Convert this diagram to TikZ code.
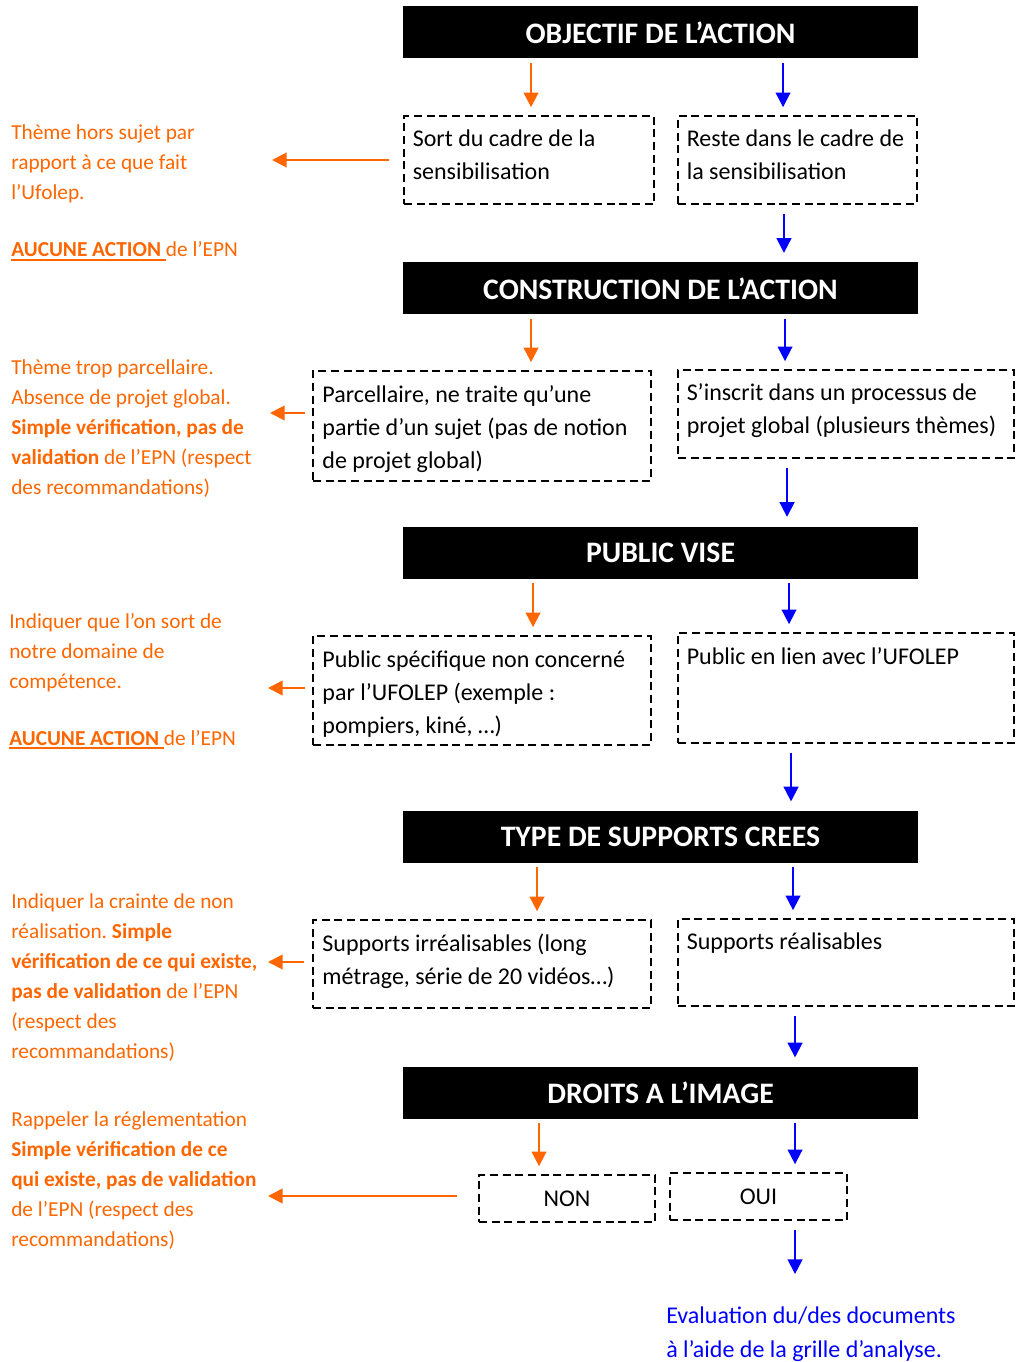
\documentclass[tikz,border=0pt]{standalone}
\usepackage{fontspec}
\setmainfont{Carlito}
\usetikzlibrary{arrows.meta}
\definecolor{ufoorange}{HTML}{FF6600}
\definecolor{ufoblue}{HTML}{0000FF}
\newcommand\ulined[1]{\setbox0\hbox{#1}\rlap{\rule[-2.8pt]{\wd0}{1.1pt}}\box0}
\frenchspacing

\begin{document}
\begin{tikzpicture}[x=0.75pt,y=-0.75pt,
    header/.style={fill=black,text=white,inner sep=0pt,minimum width=386.25pt,minimum height=39pt,font=\fontsize{22.3}{26}\selectfont\bfseries},
    choice/.style={draw,line width=1.2pt,dash pattern=on 6pt off 3.5pt,inner sep=0pt},
    boxtext/.style={anchor=base west,inner sep=0pt,align=left,font=\fontsize{18}{24.75}\selectfont},
    note/.style={anchor=base west,inner sep=0pt,align=left,text=ufoorange,font=\fontsize{16}{22.5}\selectfont},
    orarrow/.style={ufoorange,line width=1.5pt,-{Triangle[length=11pt,width=11pt]}},
    blarrow/.style={ufoblue,line width=1.5pt,-{Triangle[length=11pt,width=11pt]}},
    godown/.style={shorten <=3pt,shorten >=6pt},
    goon/.style={shorten <=7pt,shorten >=7pt}]
    \useasboundingbox (0,0) rectangle (1015,1362);

    \node[header] (obj) at (660.5,32.5) {OBJECTIF DE L’ACTION};
    \node[header] (constr) at (660.5,288.5) {CONSTRUCTION DE L’ACTION};
    \node[header] (public) at (660.5,552.5) {PUBLIC VISE};
    \node[header] (type) at (660.5,837) {TYPE DE SUPPORTS CREES};
    \node[header] (droits) at (660.5,1093) {DROITS A L’IMAGE};

    \node[choice,minimum width=187.5pt,minimum height=66pt] (sort) at (529,160) {};
    \node[choice,minimum width=179.25pt,minimum height=66pt] (reste) at (797.5,160) {};
    \node[choice,minimum width=253.5pt,minimum height=82.5pt] (parc) at (482,426) {};
    \node[choice,minimum width=252pt,minimum height=66pt] (inscrit) at (846,414) {};
    \node[choice,minimum width=253.5pt,minimum height=81.75pt] (pspec) at (482,690.5) {};
    \node[choice,minimum width=252pt,minimum height=82.5pt] (plien) at (846,688) {};
    \node[choice,minimum width=253.5pt,minimum height=66pt] (sirr) at (482,964) {};
    \node[choice,minimum width=252pt,minimum height=65.25pt] (sreal) at (846,962.5) {};
    \node[choice,minimum width=132pt,minimum height=35.25pt,font=\fontsize{18}{22}\selectfont] (non) at (567,1198.5) {NON};
    \node[choice,minimum width=132.75pt,minimum height=35.25pt,font=\fontsize{18}{22}\selectfont] (oui) at (758.5,1196.5) {OUI};

    \node[boxtext] (sorttxt) at ([xshift=7pt,yshift=-48pt]sort.north west) {Sort du cadre de la\\sensibilisation};
    \node[boxtext] (restetxt) at ([xshift=7pt,yshift=-48pt]reste.north west) {Reste dans le cadre de\\la sensibilisation};
    \node[boxtext] (parctxt) at ([xshift=7.5pt,yshift=-73.5pt]parc.north west) {Parcellaire, ne traite qu’une\\partie d’un sujet (pas de notion\\de projet global)};
    \node[boxtext] (inscrittxt) at ([xshift=7pt,yshift=-48pt]inscrit.north west) {S’inscrit dans un processus de\\projet global (plusieurs thèmes)};
    \node[boxtext] (pspectxt) at ([xshift=7.5pt,yshift=-73.5pt]pspec.north west) {Public spécifique non concerné\\par l’UFOLEP (exemple :\\pompiers, kiné, …)};
    \node[boxtext] (plientxt) at ([xshift=7pt,yshift=-24pt]plien.north west) {Public en lien avec l’UFOLEP};
    \node[boxtext] (sirrtxt) at ([xshift=7.5pt,yshift=-48.75pt]sirr.north west) {Supports irréalisables (long\\métrage, série de 20 vidéos…)};
    \node[boxtext] (srealtxt) at ([xshift=7pt,yshift=-23.25pt]sreal.north west) {Supports réalisables};

    \node[note] (note1) at (11,257) {Thème hors sujet par\\rapport à ce que fait\\l’Ufolep.\\[20.25pt]\ulined{\bfseries AUCUNE ACTION }de l’EPN};
    \node[note] (note2) at (11,494) {Thème trop parcellaire.\\Absence de projet global.\\\textbf{Simple vérification, pas de}\\\textbf{validation} de l’EPN (respect\\des recommandations)};
    \node[note] (note3) at (9,745) {Indiquer que l’on sort de\\notre domaine de\\compétence.\\[20.25pt]\ulined{\bfseries AUCUNE ACTION }de l’EPN};
    \node[note] (note4) at (11,1058) {Indiquer la crainte de non\\réalisation. \textbf{Simple}\\\textbf{vérification de ce qui existe,}\\\textbf{pas de validation} de l’EPN\\(respect des\\recommandations)};
    \node[note] (note5) at (11,1246) {Rappeler la réglementation\\\textbf{Simple vérification de ce}\\\textbf{qui existe, pas de validation}\\de l’EPN (respect des\\recommandations)};
    \node[boxtext,text=ufoblue,font=\fontsize{18}{25.5}\selectfont] (eval) at (666,1357) {Evaluation du/des documents\\à l’aide de la grille d’analyse.};

    \draw[orarrow,godown] ([xshift=-97.1pt]obj.south) -- ([xshift=-97.1pt]obj.south |- sort.north);
    \draw[blarrow,godown] ([xshift=91.9pt]obj.south) -- ([xshift=91.9pt]obj.south |- reste.north);
    \draw[blarrow,goon] ([xshift=92.6pt]constr.north |- reste.south) -- ([xshift=92.6pt]constr.north);
    \draw[orarrow,godown] ([xshift=-97.1pt]constr.south) -- ([xshift=-97.1pt]constr.south |- parc.north);
    \draw[blarrow,godown] ([xshift=93.4pt]constr.south) -- ([xshift=93.4pt]constr.south |- inscrit.north);
    \draw[blarrow,goon] ([xshift=94.9pt]public.north |- inscrit.south) -- ([xshift=94.9pt]public.north);
    \draw[orarrow,godown] ([xshift=-95.6pt]public.south) -- ([xshift=-95.6pt]public.south |- pspec.north);
    \draw[blarrow,godown] ([xshift=96.4pt]public.south) -- ([xshift=96.4pt]public.south |- plien.north);
    \draw[blarrow,goon] ([xshift=97.9pt]type.north |- plien.south) -- ([xshift=97.9pt]type.north);
    \draw[orarrow,godown] ([xshift=-92.6pt]type.south) -- ([xshift=-92.6pt]type.south |- sirr.north);
    \draw[blarrow,godown] ([xshift=99.4pt]type.south) -- ([xshift=99.4pt]type.south |- sreal.north);
    \draw[blarrow,goon] ([xshift=100.9pt]droits.north |- sreal.south) -- ([xshift=100.9pt]droits.north);
    \draw[orarrow,godown] ([xshift=-91.1pt]droits.south) -- ([xshift=-91.1pt]droits.south |- non.north);
    \draw[blarrow,godown] ([xshift=100.9pt]droits.south) -- ([xshift=100.9pt]droits.south |- oui.north);
    \draw[blarrow,shorten <=6.75pt,shorten >=24pt] ([xshift=27.4pt]oui.south) -- ([xshift=27.4pt]oui.south |- eval.north);

    \coordinate (tip1) at (272,160);
    \coordinate (tip2) at (270,413);
    \coordinate (tip3) at (268,688);
    \coordinate (tip4) at (268,962);
    \coordinate (tip5) at (268,1196);
    \draw[orarrow,shorten <=10.5pt] (sort.west) -- (tip1);
    \draw[orarrow,shorten <=5.25pt] (parc.west |- tip2) -- (tip2);
    \draw[orarrow,shorten <=5.25pt] (pspec.west |- tip3) -- (tip3);
    \draw[orarrow,shorten <=6pt] (sirr.west |- tip4) -- (tip4);
    \draw[orarrow,shorten <=15.75pt] (non.west |- tip5) -- (tip5);
\end{tikzpicture}
\end{document}
